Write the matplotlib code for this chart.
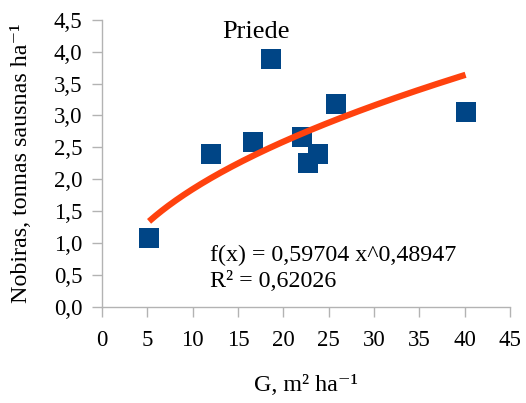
import numpy as np
import matplotlib.pyplot as plt

plt.rcParams['font.family'] = ['Liberation Serif', 'DejaVu Serif']

# measured points (G, biomass)
g_values = [5.2, 12.0, 16.7, 18.6, 22.1, 22.7, 23.8, 25.8, 40.1]
biomass = [1.08, 2.39, 2.58, 3.88, 2.66, 2.25, 2.39, 3.18, 3.05]

# power trend line f(x) = a * x^b
coef_a = 0.59704
coef_b = 0.48947
r_squared = 0.62026

x_ticks = [0, 5, 10, 15, 20, 25, 30, 35, 40, 45]
y_ticks = [0.0, 0.5, 1.0, 1.5, 2.0, 2.5, 3.0, 3.5, 4.0, 4.5]

grey = '#b3b3b3'

fig = plt.figure(figsize=(5.26, 4.03), dpi=100)
ax = fig.add_axes([0.1937, 0.239, 0.7759, 0.712])

xs = np.linspace(min(g_values), max(g_values), 200)
ax.plot(xs, coef_a * xs ** coef_b, color='#ff420e', linewidth=4.5,
        solid_capstyle='butt', zorder=3)
ax.scatter(g_values, biomass, marker='s', s=205, color='#004586',
           linewidths=0, zorder=2)

ax.set_xlim(0, 45)
ax.set_ylim(0, 4.5)
ax.set_xticks(x_ticks)
ax.set_yticks(y_ticks)
ax.set_xticklabels([str(t) for t in x_ticks])
ax.set_yticklabels([f'{t:.1f}'.replace('.', ',') for t in y_ticks])

for side in ['top', 'right']:
    ax.spines[side].set_visible(False)
for side in ['left', 'bottom']:
    ax.spines[side].set_color(grey)
    ax.spines[side].set_linewidth(1.0)
ax.tick_params(axis='both', colors=grey, length=7, width=1.0,
               labelsize=16.5, labelcolor='#000000')
ax.tick_params(axis='x', pad=10)
ax.tick_params(axis='y', pad=7)

ax.text(17.0, 4.31, 'Priede', fontsize=19, ha='center', va='center')
ax.text(11.9, 0.81, f'f(x) = {coef_a:.5f} x^{coef_b:.5f}'.replace('.', ','),
        fontsize=17.3, ha='left', va='center')
ax.text(11.9, 0.39, f'R² = {r_squared:.5f}'.replace('.', ','),
        fontsize=17.3, ha='left', va='center')

ax.set_xlabel('G, m² ha⁻¹', fontsize=17.3)
ax.set_ylabel('Nobiras, tonnas sausnas ha⁻¹', fontsize=17.3)
ax.xaxis.label.set_va('center')
ax.yaxis.label.set_va('center')
ax.xaxis.set_label_coords(0.5, -0.273)
ax.yaxis.set_label_coords(-0.196, 0.5)

fig.savefig('out.png', dpi=100)
